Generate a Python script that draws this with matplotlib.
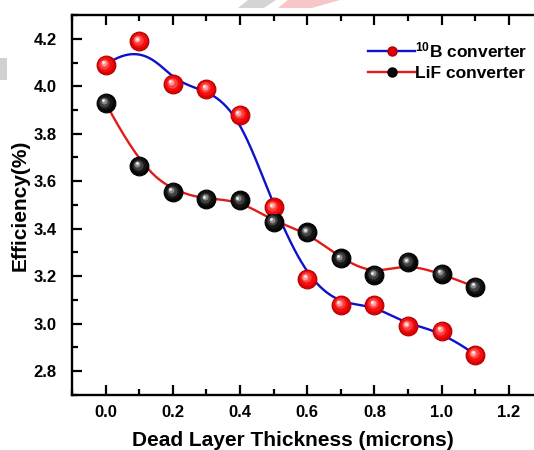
import numpy as np
import matplotlib
matplotlib.use('Agg')
import matplotlib.pyplot as plt
from matplotlib.lines import Line2D
from matplotlib.patches import Polygon, Rectangle
from matplotlib.ticker import MultipleLocator
import matplotlib.transforms as mtransforms

plt.rcParams['font.family'] = ['Liberation Sans', 'DejaVu Sans']
plt.rcParams['font.weight'] = 'bold'
plt.rcParams['mathtext.fontset'] = 'custom'
plt.rcParams['mathtext.rm'] = 'Liberation Sans:bold'
plt.rcParams['mathtext.default'] = 'rm'

# data
thickness = [0.0, 0.1, 0.2, 0.3, 0.4, 0.5, 0.6, 0.7, 0.8, 0.9, 1.0, 1.1]
eff_b10 = [4.09, 4.19, 4.01, 3.99, 3.88, 3.49, 3.19, 3.08, 3.08, 2.99, 2.97, 2.87]
eff_lif = [3.93, 3.665, 3.555, 3.525, 3.52, 3.43, 3.385, 3.275, 3.205, 3.26, 3.21, 3.155]
labels = ['$^{10}$B converter', 'LiF converter']


def bspline(xs, ys, n=400, k=3):
    # clamped uniform B-spline with the points as control points (Origin style)
    P = np.column_stack([xs, ys])
    m = len(P)
    knots = np.concatenate([np.zeros(k), np.linspace(0, 1, m - k + 1), np.ones(k)])
    t = np.linspace(0, 1, n)
    t[-1] -= 1e-9
    B = np.zeros((n, len(knots) - 1))
    for i in range(len(knots) - 1):
        B[:, i] = (t >= knots[i]) & (t < knots[i + 1])
    for d in range(1, k + 1):
        Bn = np.zeros((n, len(knots) - 1 - d))
        for i in range(len(knots) - 1 - d):
            a = knots[i + d] - knots[i]
            b = knots[i + d + 1] - knots[i + 1]
            left = (t - knots[i]) / a * B[:, i] if a > 0 else 0
            right = (knots[i + d + 1] - t) / b * B[:, i + 1] if b > 0 else 0
            Bn[:, i] = left + right
        B = Bn
    C = B @ P
    return C[:, 0], C[:, 1]


def spheres(ax, x, y, base, edge, shades, size=13.5):
    ax.plot(x, y, 'o', ms=size, mfc=base, mec=edge, mew=0.8, ls='None', zorder=3)
    for j, (c, f) in enumerate(shades):
        off = mtransforms.offset_copy(ax.transData, fig=fig, x=-1.8 * (j + 1) / len(shades),
                                      y=1.8 * (j + 1) / len(shades), units='points')
        ax.plot(x, y, 'o', ms=size * f, mfc=c, mec='none', ls='None',
                transform=off, zorder=3 + j + 1)


fig = plt.figure(figsize=(5.34, 4.5), dpi=100)
fig.patch.set_facecolor('white')
# faint page artefacts
H, W = 450, 534
fig.patches.append(Polygon([[238 / W, 1 - 8 / H], [248 / W, 1.0], [276 / W, 1.0],
                            [264 / W, 1 - 8 / H]], closed=True, transform=fig.transFigure,
                           fc='#d4d4d4', ec='none', zorder=0))
fig.patches.append(Polygon([[278 / W, 1 - 8 / H], [288 / W, 1.0], [340 / W, 1.0],
                            [312 / W, 1 - 8 / H]], closed=True, transform=fig.transFigure,
                           fc='#f7c6c6', ec='none', zorder=0))
fig.patches.append(Rectangle((0, 1 - 80 / H), 7 / W, 22 / H, transform=fig.transFigure,
                             fc='#d0d0d0', ec='none', zorder=0))

ax = fig.add_axes([72 / W, 55 / H, 470.4 / W, 380 / H])
ax.patch.set_alpha(0)

bx, by = bspline(thickness, eff_b10)
lx, ly = bspline(thickness, eff_lif)
ax.plot(bx, by, color='#1010cc', lw=1.7, zorder=2)
ax.plot(lx, ly, color='#e01b1b', lw=1.7, zorder=2)

spheres(ax, thickness, eff_b10, '#e00000', '#b00000',
        [('#f01010', 0.8), ('#ff4040', 0.55), ('#ff9a9a', 0.32), ('#ffeeee', 0.15)])
spheres(ax, thickness, eff_lif, '#050505', '#000000',
        [('#151515', 0.8), ('#404040', 0.55), ('#8a8a8a', 0.32), ('#f0f0f0', 0.15)])

ax.set_xlim(-0.1, 1.3)
ax.set_ylim(2.7, 4.3)
ax.xaxis.set_minor_locator(MultipleLocator(0.1))
ax.yaxis.set_major_locator(MultipleLocator(0.2))
ax.yaxis.set_minor_locator(MultipleLocator(0.1))
ax.set_xticks([0.0, 0.2, 0.4, 0.6, 0.8, 1.0, 1.2])
ax.tick_params(which='both', direction='in', top=True, right=False, width=1.6)
ax.tick_params(which='major', length=7, labelsize=12)
ax.tick_params(which='minor', length=4)
ax.tick_params(axis='x', pad=7)
ax.tick_params(axis='y', pad=11)
for s in ['left', 'bottom', 'top']:
    ax.spines[s].set_linewidth(1.7)
ax.spines['right'].set_visible(False)

ax.set_xlabel('Dead Layer Thickness (microns)', fontsize=15, fontweight='bold')
ax.set_ylabel('Efficiency(%)', fontsize=15, fontweight='bold')
ax.xaxis.set_label_coords(0.47, -0.12)
ax.xaxis.label.set_va('center')
ax.yaxis.set_label_coords(-0.11, 0.5)
ax.yaxis.label.set_va('center')

handles = [Line2D([], [], color='#1010cc', lw=1.7, marker='o', ms=6.5, mfc='#e00000', mec='#b00000'),
           Line2D([], [], color='#e01b1b', lw=1.7, marker='o', ms=6.5, mfc='#050505', mec='#000000')]
ax.legend(handles, labels, loc='upper left', bbox_to_anchor=(0.6, 0.97), frameon=False,
          handlelength=2.7, handletextpad=0.0, labelspacing=0.35, borderpad=0.3,
          prop={'weight': 'bold', 'size': 12.5})

fig.savefig('out.png', dpi=100)
